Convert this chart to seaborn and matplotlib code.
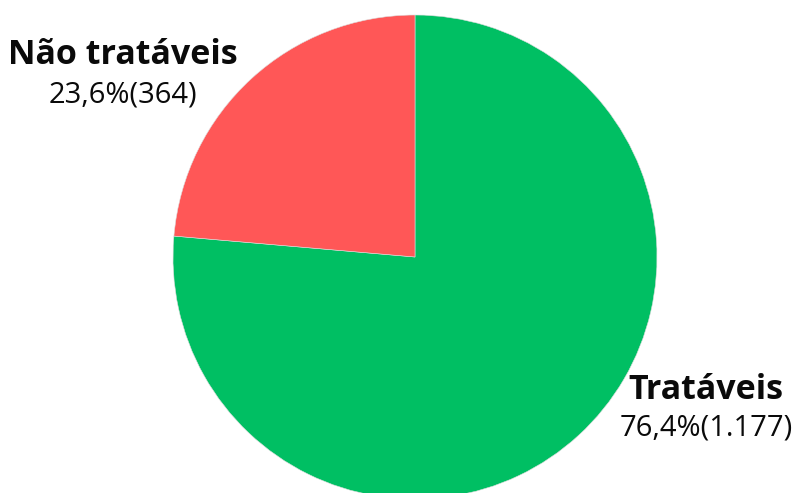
import matplotlib
matplotlib.use("Agg")
import matplotlib.pyplot as plt
import seaborn as sns

sns.set_style("white")
plt.rcParams['font.family'] = ['Open Sans', 'DejaVu Sans']

categories = ["Tratáveis", "Não tratáveis"]
counts = [1177, 364]
colors = ["#00BF63", "#FF5757"]

W, H = 798, 493
fig = plt.figure(figsize=(W / 100, H / 100), dpi=100)
cx, cy, r = 415, 257, 242
ax = fig.add_axes([(cx - r) / W, (H - cy - r) / H, 2 * r / W, 2 * r / H])
ax.pie(counts, colors=colors, startangle=90, counterclock=False, radius=1,
       wedgeprops=dict(edgecolor="#dddddd", linewidth=0.4))
ax.set_xlim(-1, 1)
ax.set_ylim(-1, 1)
ax.set_aspect("equal")
ax.axis("off")

total = sum(counts)
def fmt_int(n):
    return f"{n:,}".replace(",", ".")

label_pos = {"Tratáveis": (706, 390, 428), "Não tratáveis": (123, 55, 95)}
for cat, n in zip(categories, counts):
    x, y1, y2 = label_pos[cat]
    pct = f"{100 * n / total:.1f}".replace(".", ",")
    fig.text(x / W, 1 - y1 / H, cat, ha="center", va="center",
             fontsize=24.5, fontweight="bold", color="#0a0a0a")
    fig.text(x / W, 1 - y2 / H, f"{pct}%({fmt_int(n)})", ha="center", va="center",
             fontsize=21, color="#0a0a0a")

fig.savefig("out.png", dpi=100)
